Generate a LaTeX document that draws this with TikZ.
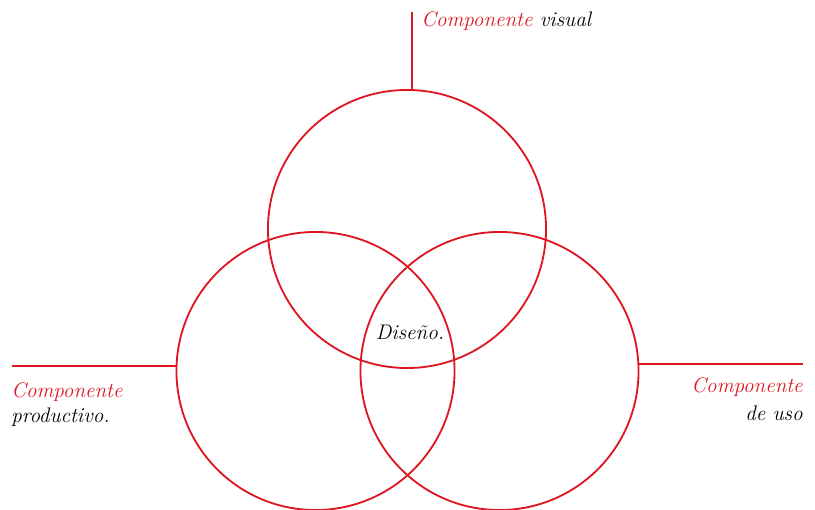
\documentclass[tikz,border=0pt]{standalone}
\usepackage{tikz}
\definecolor{vennred}{RGB}{222,22,34}

\begin{document}
\begin{tikzpicture}[x=0.025cm, y=-0.025cm,
    ring/.style={circle, draw=vennred, line width=1.3pt, inner sep=0pt, minimum size=6.95cm},
    lead/.style={draw=vennred, line width=1.3pt},
    lbl/.style={inner sep=0pt, font=\fontsize{15}{18}\selectfont\itshape}]
    \useasboundingbox (0,0) rectangle (815,510);
    \clip (0,0) rectangle (815,510);

    % Define the centres of the three circles
    \coordinate (V) at (407,229);
    \coordinate (P) at (315.5,371);
    \coordinate (U) at (499.5,371);

    % Draw the circles
    \node[ring] (cvis) at (V) {};
    \node[ring] (cprod) at (P) {};
    \node[ring] (cuso) at (U) {};

    % Free ends of the leader lines
    \coordinate (topend) at (410,12);
    \coordinate (leftend) at (12,367);
    \coordinate (rightend) at (803,362.5);

    % Leader lines
    \draw[lead] (cvis.88.8) -- (cvis.88.8 |- topend);
    \draw[lead] (cprod.178.4) -- (cprod.178.4 -| leftend);
    \draw[lead] (cuso.3.4) -- (cuso.3.4 -| rightend);

    % Place the labels
    \node[lbl, anchor=base west] (visual) at (421,27) {\textcolor{vennred}{Componente} visual};
    \node[lbl, anchor=base west, text=vennred] (prodA) at (11,398) {Componente};
    \node[lbl, anchor=base west] (prodB) at (11,423) {productivo.};
    \node[lbl, anchor=base east, text=vennred] (usoA) at (803,393) {Componente};
    \node[lbl, anchor=base east] (usoB) at (803,420) {de uso};
    \node[lbl, anchor=base] (diseno) at (410,340) {Diseño.};
\end{tikzpicture}
\end{document}
